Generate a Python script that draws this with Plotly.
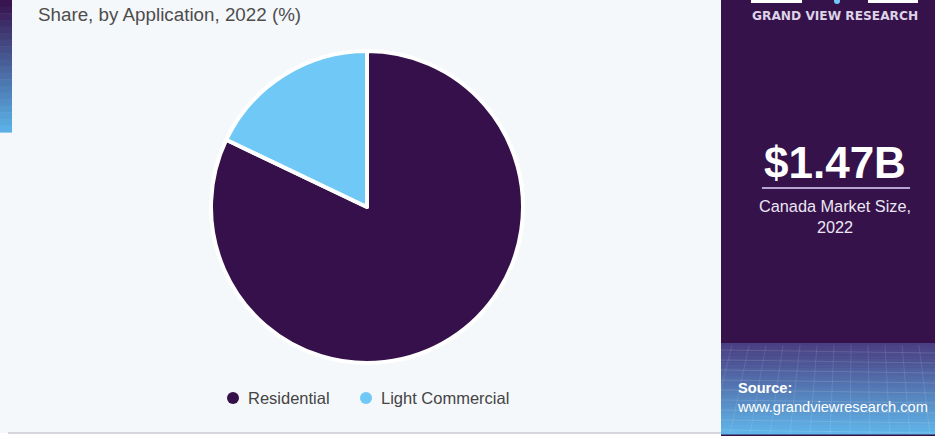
import plotly.graph_objects as go

# Market share by application, Canada 2022 (%)
categories = ["Residential", "Light Commercial"]
shares = [82.1, 17.9]
slice_colors = ["#35104a", "#6fc8f5"]

title_text = "Share, by Application, 2022 (%)"
market_size = "$1.47B"
market_caption = "Canada Market Size,<br>2022"
brand = "GRAND VIEW RESEARCH"
source_label = "<b>Source:</b><br>www.grandviewresearch.com"

W, H = 935, 436
BG = "#f5f8fb"
PANEL = "#36124a"


def px(x):
    return x / W


def py(y):
    return 1 - y / H


def lerp(c1, c2, t):
    a = [int(c1[i:i + 2], 16) for i in (1, 3, 5)]
    b = [int(c2[i:i + 2], 16) for i in (1, 3, 5)]
    return "#" + "".join(f"{round(a[k] + (b[k] - a[k]) * t):02x}" for k in range(3))


shapes = []


def rect(x0, y0, x1, y1, color, layer="below", line=None):
    shapes.append(dict(type="rect", xref="paper", yref="paper",
                       x0=px(x0), x1=px(x1), y0=py(y1), y1=py(y0),
                       fillcolor=color, line=line or dict(width=0), layer=layer))


def gradient(x0, y0, x1, y1, c_top, c_bot, steps=30):
    h = (y1 - y0) / steps
    for i in range(steps):
        rect(x0, y0 + i * h, x1, y0 + (i + 1) * h + 0.6, lerp(c_top, c_bot, i / (steps - 1)))


# right-hand brand panel
rect(721, 0, W, 436, PANEL)
gradient(721, 343, W, 434, "#4a3f82", "#5fb4e8")
# faint mesh lines in the lower panel
for k in range(9):
    yy = 350 + k * 10
    shapes.append(dict(type="line", xref="paper", yref="paper",
                       x0=px(721), x1=px(W), y0=py(yy), y1=py(yy + 3),
                       line=dict(color="rgba(255,255,255,0.13)", width=1), layer="below"))
for k in range(14):
    xx = 715 + k * 17
    shapes.append(dict(type="line", xref="paper", yref="paper",
                       x0=px(xx), x1=px(xx - 25 + k * 3), y0=py(345), y1=py(434),
                       line=dict(color="rgba(255,255,255,0.10)", width=1), layer="below"))

# left edge strip
gradient(0, 0, 12, 132, "#381550", "#5ab0e6", steps=20)

# logo fragments at the top of the panel
rect(751, 0, 802, 3, "#ffffff", layer="above")
rect(868, 0, 918, 3, "#ffffff", layer="above")
shapes.append(dict(type="circle", xref="paper", yref="paper",
                   x0=px(834), x1=px(840), y0=py(4), y1=py(-2),
                   fillcolor="#6fc8f5", line=dict(width=0), layer="above"))

# underline beneath the market size
shapes.append(dict(type="line", xref="paper", yref="paper",
                   x0=px(762), x1=px(910), y0=py(188), y1=py(188),
                   line=dict(color="#b7a4d2", width=2), layer="above"))

# bottom border
rect(0, 433, 721, 436, "#ffffff", layer="above")
shapes.append(dict(type="line", xref="paper", yref="paper",
                   x0=px(8), x1=px(721), y0=py(433), y1=py(433),
                   line=dict(color="#c9cbd0", width=1.5), layer="above"))

fig = go.Figure()

# pie centred at (367, 207) px with radius ~156 px
cx, cy, r = 367, 207, 156
fig.add_trace(go.Pie(
    labels=categories, values=shares, sort=False, direction="clockwise", rotation=0,
    marker=dict(colors=slice_colors, line=dict(color="#ffffff", width=4)),
    textinfo="none", hoverinfo="label+percent", showlegend=False,
    domain=dict(x=[px(cx - r), px(cx + r)], y=[py(cy + r), py(cy - r)]),
))

annotations = [
    dict(text=title_text, x=px(36), y=py(15), xanchor="left", yanchor="middle",
         font=dict(family="Liberation Sans, Arial", size=18.8, color="#4d4d4d")),
    dict(text=brand, x=px(835), y=py(16), xanchor="center", yanchor="middle",
         font=dict(family="DejaVu Sans", size=12.2, color="#dcd4e6", weight="bold")),
    dict(text=market_size, x=px(835), y=py(162), xanchor="center", yanchor="middle",
         font=dict(family="Liberation Sans, Arial", size=44, color="#ffffff", weight="bold")),
    dict(text=market_caption, x=px(835), y=py(216), xanchor="center", yanchor="middle",
         font=dict(family="Liberation Sans, Arial", size=16.3, color="#ece6f4")),
    dict(text=source_label, x=px(735), y=py(397), xanchor="left", yanchor="middle", align="left",
         font=dict(family="Liberation Sans, Arial", size=14.6, color="#ffffff")),
]

# legend row with circular markers
legend_x = [233, 366]
for name, color, lx in zip(categories, slice_colors, legend_x):
    shapes.append(dict(type="circle", xref="paper", yref="paper",
                       x0=px(lx - 6), x1=px(lx + 6), y0=py(398 + 6), y1=py(398 - 6),
                       fillcolor=color, line=dict(width=0), layer="above"))
    annotations.append(dict(text=name, x=px(lx + 13), y=py(398), xanchor="left", yanchor="middle",
                            font=dict(family="Liberation Sans, Arial", size=16.5, color="#444444")))

for a in annotations:
    a.update(xref="paper", yref="paper", showarrow=False)

fig.update_layout(
    width=W, height=H, margin=dict(l=0, r=0, t=0, b=0),
    paper_bgcolor=BG, plot_bgcolor=BG,
    shapes=shapes, annotations=annotations,
)

fig.write_html("out.html")
